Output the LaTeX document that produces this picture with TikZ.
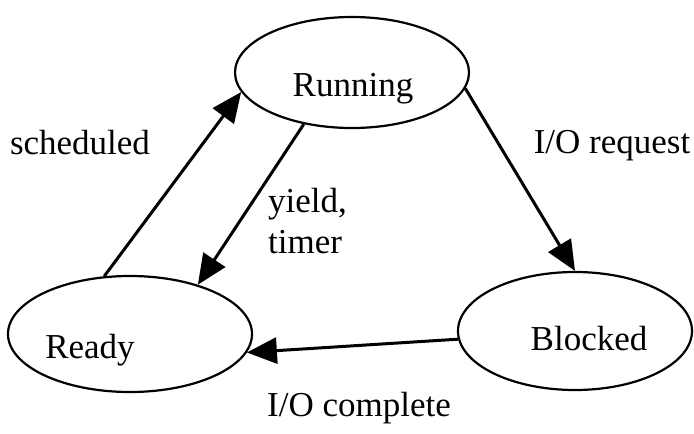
\documentclass[tikz,border=0pt]{standalone}
\usepackage{fontspec}
\setmainfont{Liberation Serif}
\usetikzlibrary{shapes.geometric,arrows.meta}
\tikzset{
  state/.style={draw, ellipse, line width=2.2pt, inner sep=0pt},
  lbl/.style={inner sep=0pt, font=\fontsize{35}{40}\selectfont},
  conn/.style={line width=3pt, -{Triangle[length=30pt,width=26pt]}}
}
\begin{document}
\begin{tikzpicture}[x=1pt,y=-1pt]
\useasboundingbox (0,0) rectangle (694,434);
\node[state, minimum width=234pt, minimum height=111pt] (running) at (352,72.5) {};
\node[state, minimum width=244pt, minimum height=116pt] (ready) at (130,334) {};
\node[state, minimum width=234pt, minimum height=118pt] (blocked) at (575,331) {};
\node[lbl, anchor=base] (runningtxt) at (353,96) {Running};
\node[lbl, anchor=base] (readytxt) at (90,358) {Ready};
\node[lbl, anchor=base] (blockedtxt) at (589,350) {Blocked};
\draw[conn] (ready.114) -- (running.190);
\draw[conn] (running.227.6) -- (ready.36);
\draw[conn] (running.-8.4) -- (blocked.90);
\draw[conn] (blocked.184.5) -- (ready.-9.4);
\node[lbl, anchor=base] (lsched) at (80,154) {scheduled};
\node[lbl, anchor=base west] (lyield) at (268,212) {yield,};
\node[lbl, anchor=base west] (ltimer) at (268,253) {timer};
\node[lbl, anchor=base] (lreq) at (612,153) {I/O request};
\node[lbl] (lcomp) at (359,408) {I/O complete};
\end{tikzpicture}
\end{document}
